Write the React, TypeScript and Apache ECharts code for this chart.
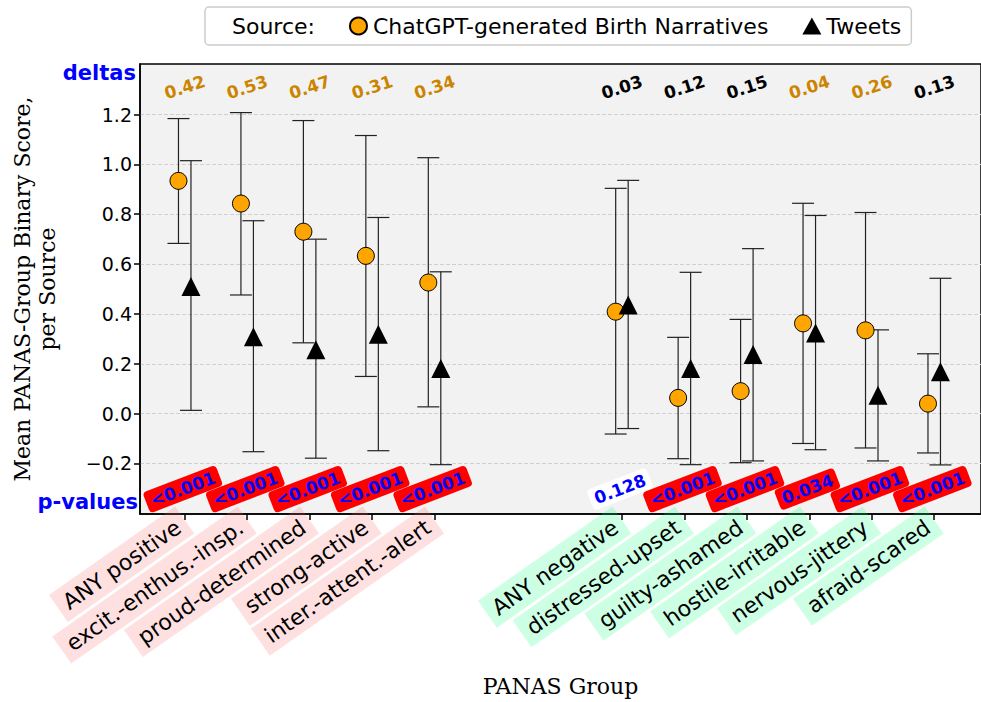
import React, { useEffect, useRef } from "react";
import * as echarts from "echarts";

const categories = [
  "ANY positive",
  "excit.-enthus.-insp.",
  "proud-determined",
  "strong-active",
  "inter.-attent.-alert",
  "ANY negative",
  "distressed-upset",
  "guilty-ashamed",
  "hostile-irritable",
  "nervous-jittery",
  "afraid-scared",
];
const groups = ["pos", "pos", "pos", "pos", "pos", "neg", "neg", "neg", "neg", "neg", "neg"];
const positions = [0, 1, 2, 3, 4, 7, 8, 9, 10, 11, 12];

const gptMean = [0.934, 0.843, 0.73, 0.633, 0.526, 0.409, 0.063, 0.09, 0.362, 0.334, 0.04];
const gptLow = [0.683, 0.476, 0.284, 0.149, 0.027, -0.082, -0.181, -0.197, -0.12, -0.138, -0.158];
const gptHigh = [1.184, 1.208, 1.176, 1.116, 1.027, 0.904, 0.306, 0.378, 0.844, 0.807, 0.24];

const tweetMean = [0.51, 0.308, 0.256, 0.318, 0.181, 0.436, 0.181, 0.237, 0.323, 0.074, 0.168];
const tweetLow = [0.013, -0.153, -0.179, -0.149, -0.205, -0.06, -0.205, -0.19, -0.145, -0.19, -0.206];
const tweetHigh = [1.015, 0.774, 0.7, 0.787, 0.569, 0.936, 0.567, 0.662, 0.795, 0.336, 0.543];

const deltas = ["0.42", "0.53", "0.47", "0.31", "0.34", "0.03", "0.12", "0.15", "0.04", "0.26", "0.13"];
const pValues = ["<0.001", "<0.001", "<0.001", "<0.001", "<0.001", "0.128", "<0.001", "<0.001", "0.034", "<0.001", "<0.001"];
const pNumeric = [0.0005, 0.0005, 0.0005, 0.0005, 0.0005, 0.128, 0.0005, 0.0005, 0.034, 0.0005, 0.0005];

const yTicks = [-0.2, 0, 0.2, 0.4, 0.6, 0.8, 1.0, 1.2];

const SERIES_GPT = "ChatGPT-generated Birth Narratives";
const SERIES_TW = "Tweets";
const OFFSET = 0.1;
const DELTA_Y = 1.31;
const P_Y = -0.303;

function errorBarSeries(name: string, offset: number, low: number[], high: number[], z: number) {
  return {
    type: "custom",
    name: name + " err",
    z,
    silent: true,
    data: positions.map((p, i) => [p + offset, low[i], high[i]]),
    renderItem: (params: any, api: any) => {
      const x = api.value(0);
      const top = api.coord([x, api.value(2)]);
      const bot = api.coord([x, api.value(1)]);
      const cap = 11;
      const style = { stroke: "#222222", lineWidth: 1.2 };
      return {
        type: "group",
        children: [
          { type: "line", shape: { x1: top[0], y1: top[1], x2: bot[0], y2: bot[1] }, style },
          { type: "line", shape: { x1: top[0] - cap, y1: top[1], x2: top[0] + cap, y2: top[1] }, style },
          { type: "line", shape: { x1: bot[0] - cap, y1: bot[1], x2: bot[0] + cap, y2: bot[1] }, style },
        ],
      };
    },
  };
}

export default function App() {
  const ref = useRef<HTMLDivElement>(null);
  useEffect(() => {
    if (!ref.current) return;
    const chart = echarts.init(ref.current, undefined, { renderer: "svg" });
    const labelRich = (bg: string) => ({
      backgroundColor: bg,
      padding: [6, 8, 5, 8],
      fontSize: 22,
      color: "#000",
      fontFamily: "DejaVu Sans",
    });
    const option: any = {
      animation: false,
      backgroundColor: "#ffffff",
      textStyle: { fontFamily: "DejaVu Sans" },
      grid: {
        left: 140,
        right: -5,
        top: 64,
        bottom: 185,
        show: true,
        backgroundColor: "#f2f2f2",
        borderColor: "#000",
        borderWidth: 1.5,
      },
      legend: {
        left: 205,
        top: 7,
        padding: [8, 10, 8, 3],
        itemGap: 34,
        itemWidth: 19,
        itemHeight: 17,
        borderColor: "#cccccc",
        borderWidth: 1.5,
        borderRadius: 4,
        backgroundColor: "rgba(255,255,255,0.85)",
        textStyle: { fontSize: 22, color: "#000", fontFamily: "DejaVu Sans" },
        selectedMode: false,
        data: [
          { name: "Source:", icon: "none" },
          { name: SERIES_GPT, icon: "circle" },
          { name: SERIES_TW, icon: "triangle" },
        ],
      },
      xAxis: {
        type: "value",
        min: -0.716,
        max: 12.749,
        name: "PANAS Group",
        nameLocation: "middle",
        nameGap: 161,
        nameTextStyle: { fontFamily: "DejaVu Serif", fontSize: 22, color: "#000" },
        axisLine: { show: true, onZero: false, lineStyle: { color: "#000", width: 1.5 } },
        splitLine: { show: false },
        axisTick: { show: true, customValues: positions, length: 6, lineStyle: { color: "#000", width: 1.5 } },
        axisLabel: {
          customValues: positions,
          rotate: 35,
          margin: 6,
          formatter: (v: number) => {
            const i = positions.indexOf(Math.round(v));
            if (i < 0) return "";
            return "{" + groups[i] + "|" + categories[i] + "}";
          },
          rich: {
            pos: labelRich("rgba(255,100,100,0.2)"),
            neg: labelRich("rgba(0,255,120,0.2)"),
          },
        },
      },
      yAxis: {
        type: "value",
        min: -0.403,
        max: 1.403,
        name: "Mean PANAS-Group Binary Score,\nper Source",
        nameLocation: "middle",
        nameGap: 80,
        nameRotate: 90,
        nameTextStyle: { fontFamily: "DejaVu Serif", fontSize: 22, color: "#000", lineHeight: 25 },
        axisLine: { show: true, onZero: false, lineStyle: { color: "#000", width: 1.5 } },
        axisTick: { show: true, customValues: yTicks, length: 6, lineStyle: { color: "#000", width: 1.5 } },
        axisLabel: {
          customValues: yTicks,
          fontSize: 19,
          color: "#000",
          margin: 8,
          formatter: (v: number) => (v < 0 ? "\u2212" + Math.abs(v).toFixed(1) : v.toFixed(1)),
        },
        splitLine: { show: true, lineStyle: { type: "dashed", color: "#cfcfcf", width: 1 } },
      },
      graphic: [
        {
          type: "text",
          right: 981 - 136,
          top: 62,
          style: { text: "deltas", fontSize: 21, fontWeight: "bold", fill: "#0000ff", fontFamily: "DejaVu Sans" },
        },
        {
          type: "text",
          right: 981 - 138,
          top: 491,
          style: { text: "p-values", fontSize: 21, fontWeight: "bold", fill: "#0000ff", fontFamily: "DejaVu Sans" },
        },
      ],
      series: [
        { type: "scatter", name: "Source:", data: [] },
        errorBarSeries(SERIES_GPT, -OFFSET, gptLow, gptHigh, 2),
        errorBarSeries(SERIES_TW, OFFSET, tweetLow, tweetHigh, 2),
        {
          type: "scatter",
          name: SERIES_GPT,
          z: 4,
          symbol: "circle",
          symbolSize: 17,
          itemStyle: { color: "#FFA500", borderColor: "#000", borderWidth: 1, opacity: 1 },
          data: positions.map((p, i) => [p - OFFSET, gptMean[i]]),
        },
        {
          type: "scatter",
          name: SERIES_TW,
          z: 4,
          symbol: "triangle",
          symbolSize: 19,
          itemStyle: { color: "#000", opacity: 1 },
          data: positions.map((p, i) => [p + OFFSET, tweetMean[i]]),
        },
        {
          type: "scatter",
          name: "deltas",
          z: 5,
          silent: true,
          symbolSize: 0,
          itemStyle: { opacity: 1 },
          data: positions.map((p, i) => ({
            value: [p, DELTA_Y],
            label: {
              show: true,
              position: "inside",
              rotate: 18,
              opacity: 1,
              formatter: deltas[i],
              fontSize: 17,
              fontWeight: "bold",
              color: gptMean[i] > tweetMean[i] ? "#cc8400" : "#000",
            },
          })),
        },
        {
          type: "scatter",
          name: "pvalues",
          z: 6,
          silent: true,
          symbolSize: 0,
          itemStyle: { opacity: 1 },
          data: positions.map((p, i) => ({
            value: [p - 0.03, P_Y],
            label: {
              show: true,
              position: "inside",
              rotate: 21,
              opacity: 1,
              formatter: pValues[i],
              fontSize: 17,
              fontWeight: "bold",
              color: "#0000ff",
              backgroundColor: pNumeric[i] < 0.05 ? "#ff0000" : "#ffffff",
              borderRadius: 4,
              padding: [3, 5, 2, 5],
            },
          })),
        },
      ],
    };
    chart.setOption(option);
    return () => chart.dispose();
  }, []);
  return (
    <div
      ref={ref}
      style={{ position: "fixed", left: 0, top: 0, width: 981, height: 702, background: "#fff" }}
    />
  );
}
